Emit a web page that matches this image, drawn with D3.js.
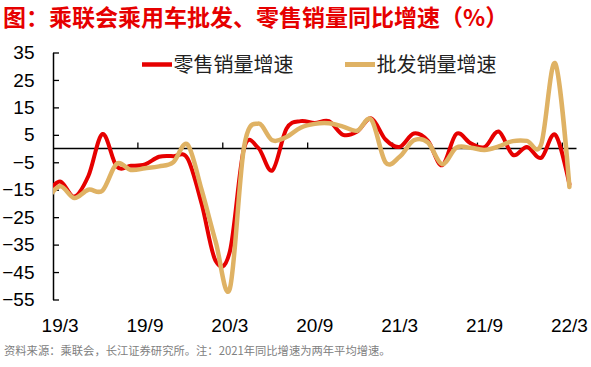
<!DOCTYPE html>
<html><head><meta charset="utf-8">
<script src="https://cdn.jsdelivr.net/npm/d3@7/dist/d3.min.js"></script>
<style>
html,body{margin:0;padding:0;background:#fff;}
svg{display:block;}
</style></head>
<body>
<script>
// Months: 19/2 (partly clipped at the axis) through 22/3
const months = ["19/2","19/3","19/4","19/5","19/6","19/7","19/8","19/9","19/10","19/11","19/12",
  "20/1","20/2","20/3","20/4","20/5","20/6","20/7","20/8","20/9","20/10","20/11","20/12",
  "21/1","21/2","21/3","21/4","21/5","21/6","21/7","21/8","21/9","21/10","21/11","21/12",
  "22/1","22/2","22/3"];
const retail = [-17,-12,-17.5,-10,5.3,-6.5,-6.3,-5.8,-3,-2.8,-3.5,
  -20,-41,-37.5,0,0.3,-8,7.2,10,9.3,10,5,6.2,
  11,3.3,0.6,5.5,2.8,-6.1,5.3,2,0.5,6.2,-2.3,0.6,
  -3.4,5,-13];
const wholesale = [-19,-13.7,-18,-15,-15.3,-5.6,-7.8,-7.2,-6.5,-5,1.5,
  -15,-34,-51,0.5,9.1,3,4.2,7.6,9.0,9.2,8,6.5,
  10.5,-5,-3,3,2.2,-5.7,0.3,0.3,-0.5,0.8,2.7,2.8,
  1.5,31,-14];
const seriesNames = ["零售销量增速","批发销量增速"];
const yTicks = [35,25,15,5,-5,-15,-25,-35,-45,-55];
const xLabels = ["19/3","19/9","20/3","20/9","21/3","21/9","22/3"];
const xTickIdx = [5.5,11.5,17.5,23.5,29.5,35.5]; // category boundaries every 6 months (index from 19/3)
const title = "图：乘联会乘用车批发、零售销量同比增速（%）";
const source = "资料来源：乘联会，长江证券研究所。注：2021年同比增速为两年平均增速。";
const colors = ["#e60000","#dfb264"];

const W = 591, H = 367;
const svg = d3.select("body").append("svg").attr("width",W).attr("height",H);

// index 0 = 19/3
const x = d3.scaleLinear().domain([-0.5, 36.5]).range([53, 576.5]);
const y = d3.scaleLinear().domain([-55, 35]).range([299.5, 52.5]);

const font = "'Liberation Sans', Arial, sans-serif";
const cjk = "'Noto Sans CJK SC', 'Noto Sans', sans-serif";

// title
svg.append("text").attr("x",3).attr("y",25.5).text(title)
  .attr("font-family",cjk).attr("font-weight",700).attr("font-size",23).attr("fill","#e60000");

// y axis
const yAxis = d3.axisLeft(y).tickValues(yTicks).tickSizeInner(-6).tickSizeOuter(0).tickPadding(18.5);
const gy = svg.append("g").attr("transform",`translate(${x(-0.5)},0)`).call(yAxis);
gy.select(".domain").attr("stroke","#000").attr("stroke-width",1.5);
gy.selectAll(".tick line").attr("stroke","#000").attr("stroke-width",1.3);
gy.selectAll(".tick text").attr("font-family",font).attr("font-size",19).attr("fill","#000");

// zero line (category axis)
svg.append("line").attr("x1",x(-0.5)).attr("x2",x(36.5)).attr("y1",y(0)).attr("y2",y(0))
  .attr("stroke","#000").attr("stroke-width",1.5);
svg.append("g").selectAll("line").data(xTickIdx).join("line")
  .attr("x1",d=>x(d)).attr("x2",d=>x(d)).attr("y1",y(0)).attr("y2",y(0)-6)
  .attr("stroke","#000").attr("stroke-width",1.3);

// x labels at their month positions
svg.append("g").selectAll("text").data(xLabels).join("text")
  .attr("x",d=>x(months.indexOf(d)-1)).attr("y",332).attr("text-anchor","middle").text(d=>d)
  .attr("font-family",font).attr("font-size",19).attr("fill","#000");

// clip
svg.append("clipPath").attr("id","plotclip").append("rect")
  .attr("x",x(-0.5)).attr("y",0).attr("width",x(36.5)-x(-0.5)+5).attr("height",H);

const line = d3.line().x((d,i)=>x(i-1)).y(d=>y(d)).curve(d3.curveCardinal.tension(0));
const gl = svg.append("g").attr("clip-path","url(#plotclip)");
gl.append("path").datum(retail).attr("d",line).attr("fill","none")
  .attr("stroke",colors[0]).attr("stroke-width",4).attr("stroke-linejoin","round").attr("stroke-linecap","round");
gl.append("path").datum(wholesale).attr("d",line).attr("fill","none")
  .attr("stroke",colors[1]).attr("stroke-width",4.5).attr("stroke-linejoin","round").attr("stroke-linecap","round");

// legend
const legX = [142, 345];
const lg = svg.append("g").selectAll("g").data(seriesNames).join("g")
  .attr("transform",(d,i)=>`translate(${legX[i]},64.5)`);
lg.append("line").attr("x1",0).attr("x2",30).attr("y1",0).attr("y2",0)
  .attr("stroke",(d,i)=>colors[i]).attr("stroke-width",(d,i)=>i?5:4.5);
lg.append("text").attr("x",31.5).attr("y",7.5).text(d=>d)
  .attr("font-family",cjk).attr("font-size",20).attr("fill","#222");

// source
svg.append("text").attr("x",4).attr("y",355).text(source)
  .attr("font-family",cjk).attr("font-size",11.3).attr("fill","#808080");
</script>
</body></html>
